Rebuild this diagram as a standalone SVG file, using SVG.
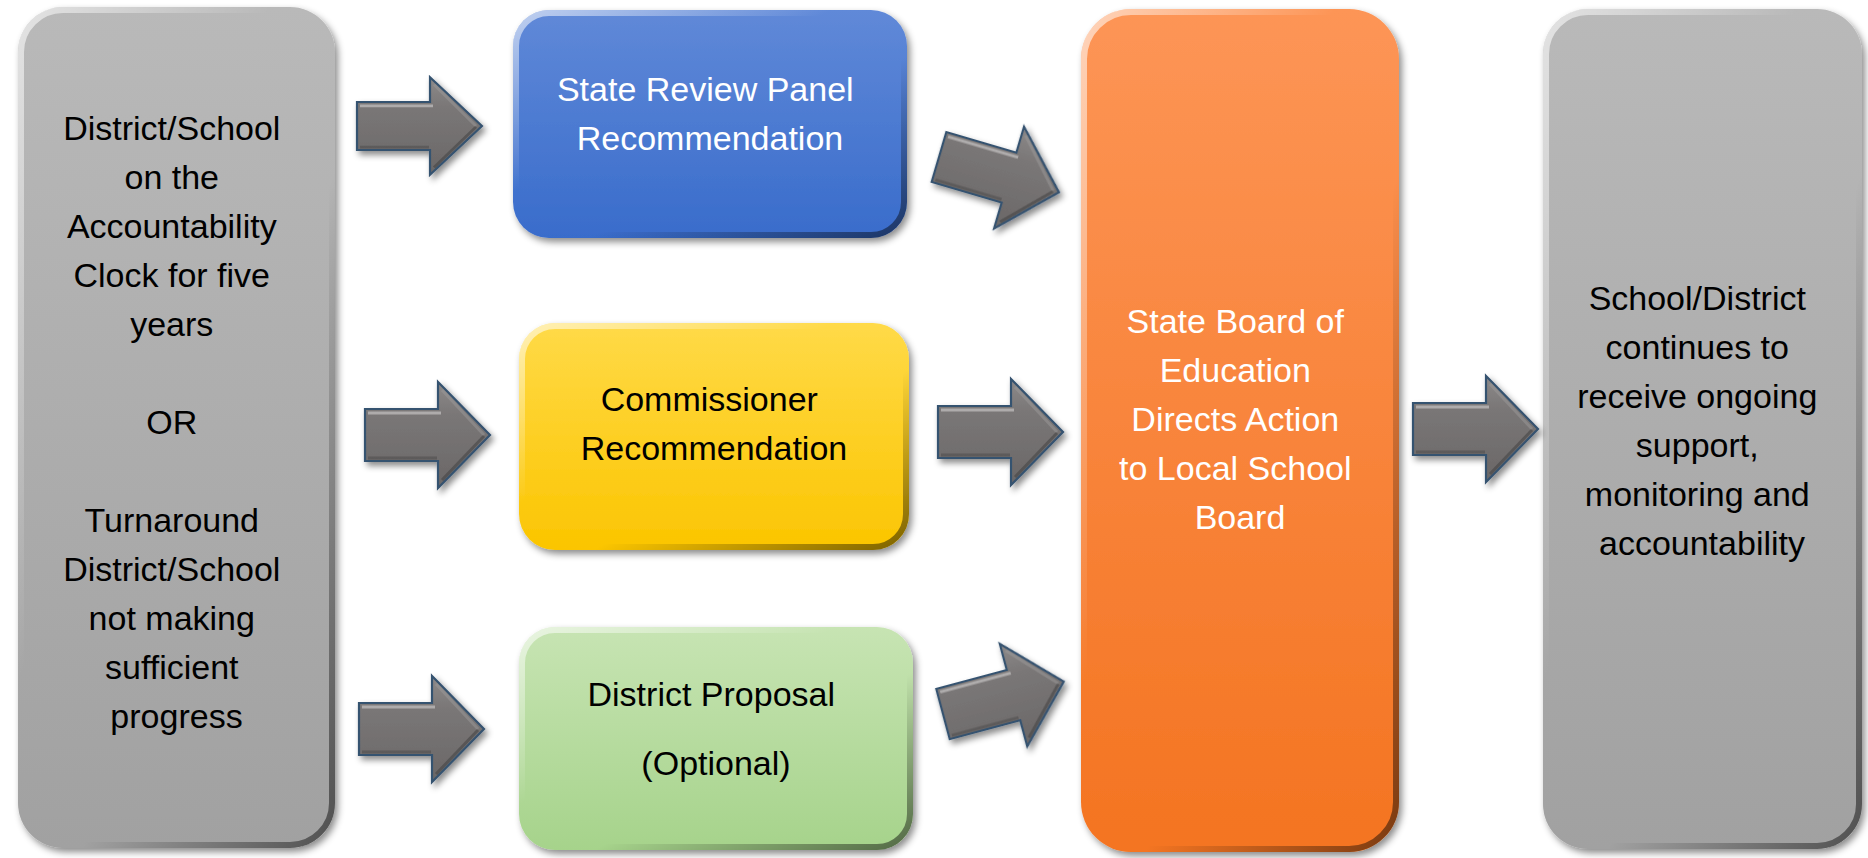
<svg xmlns="http://www.w3.org/2000/svg" xmlns:xlink="http://www.w3.org/1999/xlink" width="1868" height="858" viewBox="0 0 1868 858">
  <defs>
    <style>
      .lbl { font-family: "Liberation Sans", Arial, sans-serif; font-size: 34px; text-anchor: middle; }
      .dark { fill: #000000; }
      .light { fill: #ffffff; }
      .bevel { fill: none; stroke: url(#gBevel); stroke-width: 6; }
      .arrow { fill: url(#gArrow); stroke: #36526f; stroke-width: 2.2; stroke-linejoin: miter; }
    </style>
    <filter id="shadow" x="-10%" y="-10%" width="125%" height="125%">
      <feDropShadow dx="3" dy="4" stdDeviation="3.5" flood-color="#000000" flood-opacity="0.45"/>
    </filter>
    <filter id="ashadow" x="-20%" y="-30%" width="150%" height="170%">
      <feDropShadow dx="3" dy="4" stdDeviation="3" flood-color="#000000" flood-opacity="0.45"/>
    </filter>
    <linearGradient id="gBevel" x1="0" y1="0" x2="1" y2="1">
      <stop offset="0" stop-color="#ffffff" stop-opacity="0.6"/>
      <stop offset="0.4" stop-color="#ffffff" stop-opacity="0"/>
      <stop offset="0.6" stop-color="#000000" stop-opacity="0"/>
      <stop offset="1" stop-color="#000000" stop-opacity="0.5"/>
    </linearGradient>
    <linearGradient id="gGray" x1="0" y1="0" x2="0" y2="1">
      <stop offset="0" stop-color="#b9b9b9"/>
      <stop offset="1" stop-color="#a1a1a1"/>
    </linearGradient>
    <linearGradient id="gBlue" x1="0" y1="0" x2="0" y2="1">
      <stop offset="0" stop-color="#6089d8"/>
      <stop offset="1" stop-color="#396ccb"/>
    </linearGradient>
    <linearGradient id="gYellow" x1="0" y1="0" x2="0" y2="1">
      <stop offset="0" stop-color="#ffda48"/>
      <stop offset="1" stop-color="#fbc500"/>
    </linearGradient>
    <linearGradient id="gGreen" x1="0" y1="0" x2="0" y2="1">
      <stop offset="0" stop-color="#c7e4b3"/>
      <stop offset="1" stop-color="#a6d38b"/>
    </linearGradient>
    <linearGradient id="gOrange" x1="0" y1="0" x2="0" y2="1">
      <stop offset="0" stop-color="#fd9556"/>
      <stop offset="1" stop-color="#f47421"/>
    </linearGradient>
    <linearGradient id="gArrow" x1="0" y1="0" x2="0" y2="1">
      <stop offset="0" stop-color="#8d8a8a"/>
      <stop offset="0.3" stop-color="#7a7777"/>
      <stop offset="1" stop-color="#6a6767"/>
    </linearGradient>
    <g id="arrowShape">
      <path class="arrow" d="M0,-26 H73 V-53 L125,0 L73,53 V26 H0 Z"/>
      <path d="M3,-22 H76" stroke="#c4c2c2" stroke-width="3" stroke-opacity="0.7" fill="none"/>
      <path d="M77,-45 L119,0" stroke="#9c9999" stroke-width="3" stroke-opacity="0.5" fill="none"/>
      <path d="M77,45 L119,1" stroke="#3e3c3c" stroke-width="3" stroke-opacity="0.5" fill="none"/>
      <path d="M3,23 H72" stroke="#4a4848" stroke-width="3" stroke-opacity="0.5" fill="none"/>
    </g>
  </defs>

  <rect width="1868" height="858" fill="#ffffff"/>

  <g id="node-start">
    <rect x="18" y="7" width="317" height="841" rx="45" fill="url(#gGray)" filter="url(#shadow)"/>
    <rect class="bevel" x="21" y="10" width="311" height="835" rx="42"/>
    <text class="lbl dark">
      <tspan x="176.5" y="140">District/School</tspan>
      <tspan x="176.5" y="189">on the</tspan>
      <tspan x="176.5" y="238">Accountability</tspan>
      <tspan x="176.5" y="287">Clock for five</tspan>
      <tspan x="176.5" y="336">years</tspan>
      <tspan x="176.5" y="434">OR</tspan>
      <tspan x="176.5" y="532">Turnaround</tspan>
      <tspan x="176.5" y="581">District/School</tspan>
      <tspan x="176.5" y="630">not making</tspan>
      <tspan x="176.5" y="679">sufficient</tspan>
      <tspan x="176.5" y="728">progress</tspan>
    </text>
  </g>

  <g id="node-review">
    <rect x="513" y="10" width="394" height="228" rx="36" fill="url(#gBlue)" filter="url(#shadow)"/>
    <rect class="bevel" x="516" y="13" width="388" height="222" rx="33"/>
    <text class="lbl light">
      <tspan x="710" y="101">State Review Panel</tspan>
      <tspan x="710" y="150">Recommendation</tspan>
    </text>
  </g>

  <g id="node-commissioner">
    <rect x="519" y="323" width="390" height="227" rx="36" fill="url(#gYellow)" filter="url(#shadow)"/>
    <rect class="bevel" x="522" y="326" width="384" height="221" rx="33"/>
    <text class="lbl dark">
      <tspan x="714" y="411">Commissioner</tspan>
      <tspan x="714" y="460">Recommendation</tspan>
    </text>
  </g>

  <g id="node-proposal">
    <rect x="519" y="627" width="394" height="223" rx="36" fill="url(#gGreen)" filter="url(#shadow)"/>
    <rect class="bevel" x="522" y="630" width="388" height="217" rx="33"/>
    <text class="lbl dark">
      <tspan x="716" y="706">District Proposal</tspan>
      <tspan x="716" y="775">(Optional)</tspan>
    </text>
  </g>

  <g id="node-board">
    <rect x="1081" y="9" width="318" height="843" rx="50" fill="url(#gOrange)" filter="url(#shadow)"/>
    <rect class="bevel" x="1084" y="12" width="312" height="837" rx="47"/>
    <text class="lbl light">
      <tspan x="1240" y="333">State Board of</tspan>
      <tspan x="1240" y="382">Education</tspan>
      <tspan x="1240" y="431">Directs Action</tspan>
      <tspan x="1240" y="480">to Local School</tspan>
      <tspan x="1240" y="529">Board</tspan>
    </text>
  </g>

  <g id="node-outcome">
    <rect x="1543" y="9" width="319" height="840" rx="45" fill="url(#gGray)" filter="url(#shadow)"/>
    <rect class="bevel" x="1546" y="12" width="313" height="834" rx="42"/>
    <text class="lbl dark">
      <tspan x="1702" y="310">School/District</tspan>
      <tspan x="1702" y="359">continues to</tspan>
      <tspan x="1702" y="408">receive ongoing</tspan>
      <tspan x="1702" y="457">support,</tspan>
      <tspan x="1702" y="506">monitoring and</tspan>
      <tspan x="1702" y="555">accountability</tspan>
    </text>
  </g>

  <g id="connectors" filter="url(#ashadow)">
    <use xlink:href="#arrowShape" href="#arrowShape" transform="translate(357,126) scale(1,0.92)"/>
    <use xlink:href="#arrowShape" href="#arrowShape" transform="translate(365,435)"/>
    <use xlink:href="#arrowShape" href="#arrowShape" transform="translate(359,729)"/>
    <use xlink:href="#arrowShape" href="#arrowShape" transform="translate(939,157) rotate(16.4)"/>
    <use xlink:href="#arrowShape" href="#arrowShape" transform="translate(938,432)"/>
    <use xlink:href="#arrowShape" href="#arrowShape" transform="translate(943,714) rotate(-15)"/>
    <use xlink:href="#arrowShape" href="#arrowShape" transform="translate(1413,429)"/>
  </g>
</svg>
